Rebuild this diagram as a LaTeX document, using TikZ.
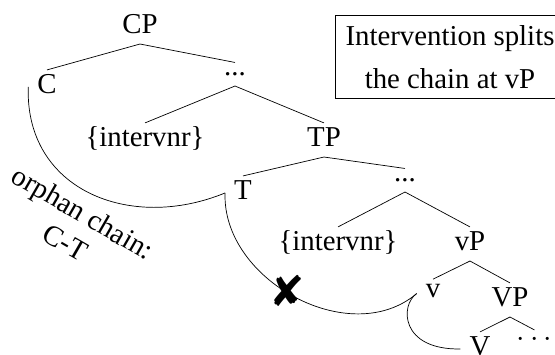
\documentclass[tikz,border=0pt]{standalone}
\usepackage{fontspec}
\setmainfont{Liberation Serif}
\newfontfamily\crossfont{DejaVu Sans}

\begin{document}
\begin{tikzpicture}[font=\fontsize{16.4}{19.5}\selectfont,
		lab/.style={anchor=base, inner sep=5pt, text height=0.85em, text depth=0.05em},
		dts/.style={lab, text height=0.25em}]
	\useasboundingbox (0,0) rectangle (11.1,7.1);
	\node[lab] (cp) at (2.80, 6.42) {CP};
	\node[lab] (c) at (0.94, 5.22) {C};
	\node[dts] (d1) at (4.70, 5.58) {...};
	\node[lab] (int1) at (2.90, 4.16) {\{intervnr\}};
	\node[lab] (tp) at (6.48, 4.16) {TP};
	\node[lab] (t) at (4.86, 3.10) {T};
	\node[dts] (d2) at (8.10, 3.46) {...};
	\node[lab] (int2) at (6.76, 2.08) {\{intervnr\}};
	\node[lab] (vp) at (9.40, 2.08) {vP};
	\node[lab, text height=0.55em] (v) at (8.66, 1.14) {v};
	\node[lab] (vvp) at (10.20, 0.96) {VP};
	\node[lab] (vv) at (9.60, -0.02) {V};
	\node[dts, text height=0.45em] (d3) at (10.69, 0.16) {$\cdots$};
	\draw (cp.south) -- (c.north);
	\draw (cp.south) -- (d1.north);
	\draw (d1.south) -- (int1.north);
	\draw (d1.south) -- (tp.north);
	\draw (tp.south) -- (t.north);
	\draw (tp.south) -- (d2.north);
	\draw (d2.south) -- (int2.north);
	\draw (d2.south) -- (vp.north);
	\draw (vp.south) -- (v.north);
	\draw (vp.south) -- (vvp.north);
	\draw (vvp.south) -- (vv.north);
	\draw (vvp.south) -- (d3.north);
	% chain links
	\draw (c.west) .. controls (0.50, 3.30) and (2.60, 2.46) .. (t.west);
	\draw (t.west) .. controls (4.44, 1.50) and (7.00, 0.10) .. (v.west);
	\draw (v.west) .. controls (8.00, 1.00) and (8.00, 0.10) .. (vv.west);
	\node (cut) at (5.74, 1.28) {\crossfont\fontsize{24}{28}\selectfont ✘};
	\node[rotate=-30, align=center] (orph) at (1.49, 2.55) {orphan chain:\\C-T};
	\node[draw, align=center, minimum width=4.6cm, inner ysep=5.5pt] (note) at (9.00, 5.96) {Intervention splits\\[5pt]the chain at vP};
\end{tikzpicture}
\end{document}
